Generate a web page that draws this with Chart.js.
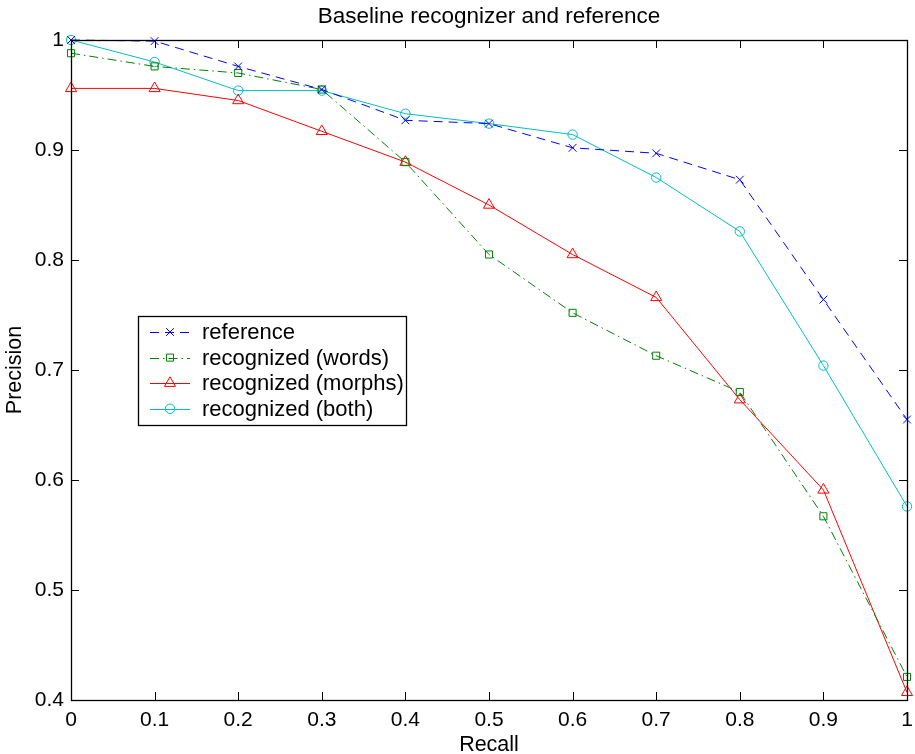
<!DOCTYPE html>
<html>
<head>
<meta charset="utf-8">
<script src="https://cdn.jsdelivr.net/npm/chart.js@4.4.1/dist/chart.umd.min.js"></script>
<style>
  html, body { margin: 0; padding: 0; background: #fff; }
  #wrap { width: 915px; height: 754px; }
</style>
</head>
<body>
<div id="wrap"><canvas id="c" width="915" height="754"></canvas></div>
<script>
// ---- data ----
const recall = [0, 0.1, 0.2, 0.3, 0.4, 0.5, 0.6, 0.7, 0.8, 0.9, 1.0];
const referenceP = [1.000, 0.999, 0.976, 0.955, 0.927, 0.924, 0.902, 0.897, 0.873, 0.764, 0.655];
const wordsP     = [0.988, 0.976, 0.970, 0.955, 0.889, 0.805, 0.752, 0.713, 0.680, 0.567, 0.421];
const morphsP    = [0.956, 0.956, 0.945, 0.917, 0.889, 0.850, 0.805, 0.766, 0.673, 0.591, 0.407];
const bothP      = [1.000, 0.980, 0.954, 0.954, 0.933, 0.924, 0.914, 0.875, 0.826, 0.704, 0.576];
const seriesNames = ['reference', 'recognized (words)', 'recognized (morphs)', 'recognized (both)'];
const xTicks = [0, 0.1, 0.2, 0.3, 0.4, 0.5, 0.6, 0.7, 0.8, 0.9, 1];
const yTicks = [0.4, 0.5, 0.6, 0.7, 0.8, 0.9, 1];
const titleText = 'Baseline recognizer and reference';
const xTitle = 'Recall';
const yTitle = 'Precision';

const FONT = "'Liberation Sans', Arial, Helvetica, sans-serif";
const pts = arr => recall.map((x, i) => ({ x: x, y: arr[i] }));

function mk(label, data, color, dash, style, radius) {
  return {
    label: label, data: pts(data),
    borderColor: color, backgroundColor: 'rgba(0,0,0,0)',
    borderWidth: 1, borderDash: dash,
    pointStyle: style, pointRadius: radius, pointBorderWidth: 1,
    pointBorderColor: color, pointBackgroundColor: 'rgba(0,0,0,0)',
    tension: 0, clip: false, fill: false
  };
}

const datasets = [
  mk(seriesNames[0], referenceP, '#0000ff', [9, 6], 'crossRot', 5.5),
  mk(seriesNames[1], wordsP, '#008000', [9, 4, 1.5, 4], 'rect', 5),
  mk(seriesNames[2], morphsP, '#ff0000', [], 'triangle', 6.4),
  mk(seriesNames[3], bothP, '#00bfbf', [], 'circle', 4.7)
];

// inside ticks + box frame (MATLAB style) + title centred over the axes
const framePlugin = {
  id: 'frame',
  afterDatasetsDraw(chart) {
    const { ctx, chartArea: a, scales: { x, y } } = chart;
    const L = 8;
    ctx.save();
    ctx.strokeStyle = '#000';
    ctx.lineWidth = 1;
    ctx.setLineDash([]);
    ctx.beginPath();
    xTicks.forEach(v => {
      const px = Math.round(x.getPixelForValue(v)) + 0.5;
      ctx.moveTo(px, a.bottom); ctx.lineTo(px, a.bottom - L);
      ctx.moveTo(px, a.top); ctx.lineTo(px, a.top + L);
    });
    yTicks.forEach(v => {
      const py = Math.round(y.getPixelForValue(v)) + 0.5;
      ctx.moveTo(a.left, py); ctx.lineTo(a.left + L, py);
      ctx.moveTo(a.right, py); ctx.lineTo(a.right - L, py);
    });
    ctx.stroke();
    ctx.lineWidth = 1.3;
    ctx.strokeRect(Math.round(a.left) + 0.5, Math.round(a.top) + 0.5,
                   Math.round(a.right - a.left), Math.round(a.bottom - a.top));
    ctx.fillStyle = '#000';
    ctx.font = '22.5px ' + FONT;
    ctx.textAlign = 'center';
    ctx.textBaseline = 'middle';
    ctx.fillText(titleText, (a.left + a.right) / 2, 17);
    ctx.restore();
  }
};

// legend box placed inside the axes
const legendPlugin = {
  id: 'insideLegend',
  afterDraw(chart) {
    const { ctx } = chart;
    const bx = 138, by = 316, bw = 268, bh = 109;
    ctx.save();
    ctx.fillStyle = '#fff';
    ctx.fillRect(bx, by, bw, bh);
    ctx.strokeStyle = '#000';
    ctx.lineWidth = 1.3;
    ctx.setLineDash([]);
    ctx.strokeRect(bx + 0.5, by + 0.5, bw, bh);
    chart.data.datasets.forEach((ds, i) => {
      const cy = 332 + i * 25.6;
      ctx.strokeStyle = ds.borderColor;
      ctx.lineWidth = 1;
      ctx.setLineDash(ds.borderDash);
      ctx.beginPath();
      ctx.moveTo(150, Math.round(cy) + 0.5);
      ctx.lineTo(190, Math.round(cy) + 0.5);
      ctx.stroke();
      ctx.setLineDash([]);
      ctx.fillStyle = 'rgba(0,0,0,0)';
      ctx.strokeStyle = ds.borderColor;
      Chart.helpers.drawPoint(ctx, {
        pointStyle: ds.pointStyle, radius: ds.pointRadius, rotation: 0,
        borderWidth: 1
      }, 170, cy);
      ctx.fillStyle = '#000';
      ctx.font = '22px ' + FONT;
      ctx.textAlign = 'left';
      ctx.textBaseline = 'middle';
      ctx.fillText(ds.label, 202, cy + 1);
    });
    ctx.restore();
  }
};

new Chart(document.getElementById('c'), {
  type: 'line',
  data: { datasets: datasets },
  plugins: [framePlugin, legendPlugin],
  options: {
    responsive: false,
    devicePixelRatio: 1,
    animation: false,
    layout: { padding: { top: 40, left: 0, right: 8, bottom: 0 } },
    plugins: {
      legend: { display: false },
      tooltip: { enabled: false },
      title: { display: false }
    },
    scales: {
      x: {
        type: 'linear', min: 0, max: 1,
        afterFit(s) { s.height = 54; s.paddingRight = 0; s.paddingLeft = 0; },
        grid: { display: false, drawTicks: false },
        border: { display: false },
        ticks: {
          stepSize: 0.1, padding: 8, color: '#000', maxRotation: 0, autoSkip: false,
          font: { family: FONT, size: 21 },
          callback: v => String(+v.toFixed(1))
        },
        title: {
          display: true, text: xTitle, color: '#000',
          font: { family: FONT, size: 21.5, lineHeight: 1 },
          padding: { top: 0, bottom: -2 }
        }
      },
      y: {
        type: 'linear', min: 0.4, max: 1,
        afterFit(s) { s.width = 71; s.paddingTop = 0; s.paddingBottom = 0; },
        grid: { display: false, drawTicks: false },
        border: { display: false },
        ticks: {
          stepSize: 0.1, padding: 7, color: '#000', autoSkip: false,
          font: { family: FONT, size: 21 },
          callback: v => String(+v.toFixed(1))
        },
        title: {
          display: true, text: yTitle, color: '#000',
          font: { family: FONT, size: 21.5, lineHeight: 1 },
          padding: { top: 4, bottom: 0 }
        }
      }
    }
  }
});
</script>
</body>
</html>
